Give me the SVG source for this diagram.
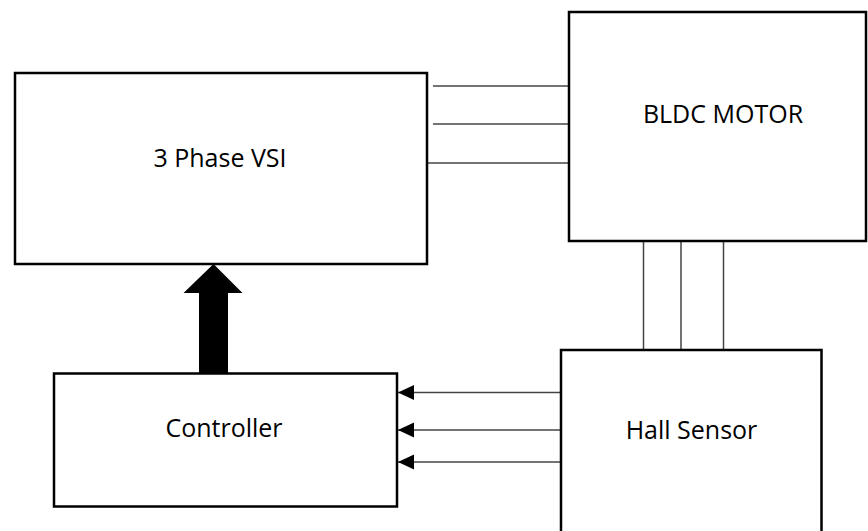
<svg xmlns="http://www.w3.org/2000/svg" width="868" height="531" viewBox="0 0 868 531">
<style>
.box{fill:#fff;stroke:#000;stroke-width:2.5}
.wire{stroke:#444;stroke-width:1.5;fill:none}
.lbl{font-family:"Open Sans","Liberation Sans",sans-serif;font-size:25px;fill:#000;text-anchor:middle}
</style>
<defs>
<marker id="ah" markerUnits="userSpaceOnUse" markerWidth="16" markerHeight="16" viewBox="0 0 16 16" refX="16" refY="8" orient="auto">
<path d="M0,0.5 L16,8 L0,15.5 Z" fill="#000"/>
</marker>
</defs>
<g id="connectors">
<line class="wire" x1="433" y1="86" x2="569" y2="86"/>
<line class="wire" x1="433" y1="124" x2="569" y2="124"/>
<line class="wire" x1="427" y1="163" x2="569" y2="163"/>
<line class="wire" x1="643.5" y1="241" x2="643.5" y2="350"/>
<line class="wire" x1="681" y1="241" x2="681" y2="350"/>
<line class="wire" x1="723.5" y1="241" x2="723.5" y2="350"/>
<line class="wire" x1="561" y1="392.5" x2="398" y2="392.5" stroke="#000" marker-end="url(#ah)"/>
<line class="wire" x1="561" y1="430" x2="398" y2="430" stroke="#000" marker-end="url(#ah)"/>
<line class="wire" x1="561" y1="462" x2="398" y2="462" stroke="#000" marker-end="url(#ah)"/>
<path d="M199,373 L199,293 L183.5,293 L213.5,264 L242.5,293 L228,293 L228,373 Z" fill="#000"/>
</g>
<g id="vsi">
<rect class="box" x="15" y="73" width="412" height="191"/>
<text class="lbl" x="220" y="167">3 Phase VSI</text>
</g>
<g id="motor">
<rect class="box" x="569" y="12" width="297" height="229"/>
<text class="lbl" x="723" y="123">BLDC MOTOR</text>
</g>
<g id="hall">
<rect class="box" x="561" y="350" width="260.5" height="200"/>
<text class="lbl" x="691.5" y="439">Hall Sensor</text>
</g>
<g id="controller">
<rect class="box" x="54" y="373.5" width="343" height="133"/>
<text class="lbl" x="224" y="437">Controller</text>
</g>
</svg>
